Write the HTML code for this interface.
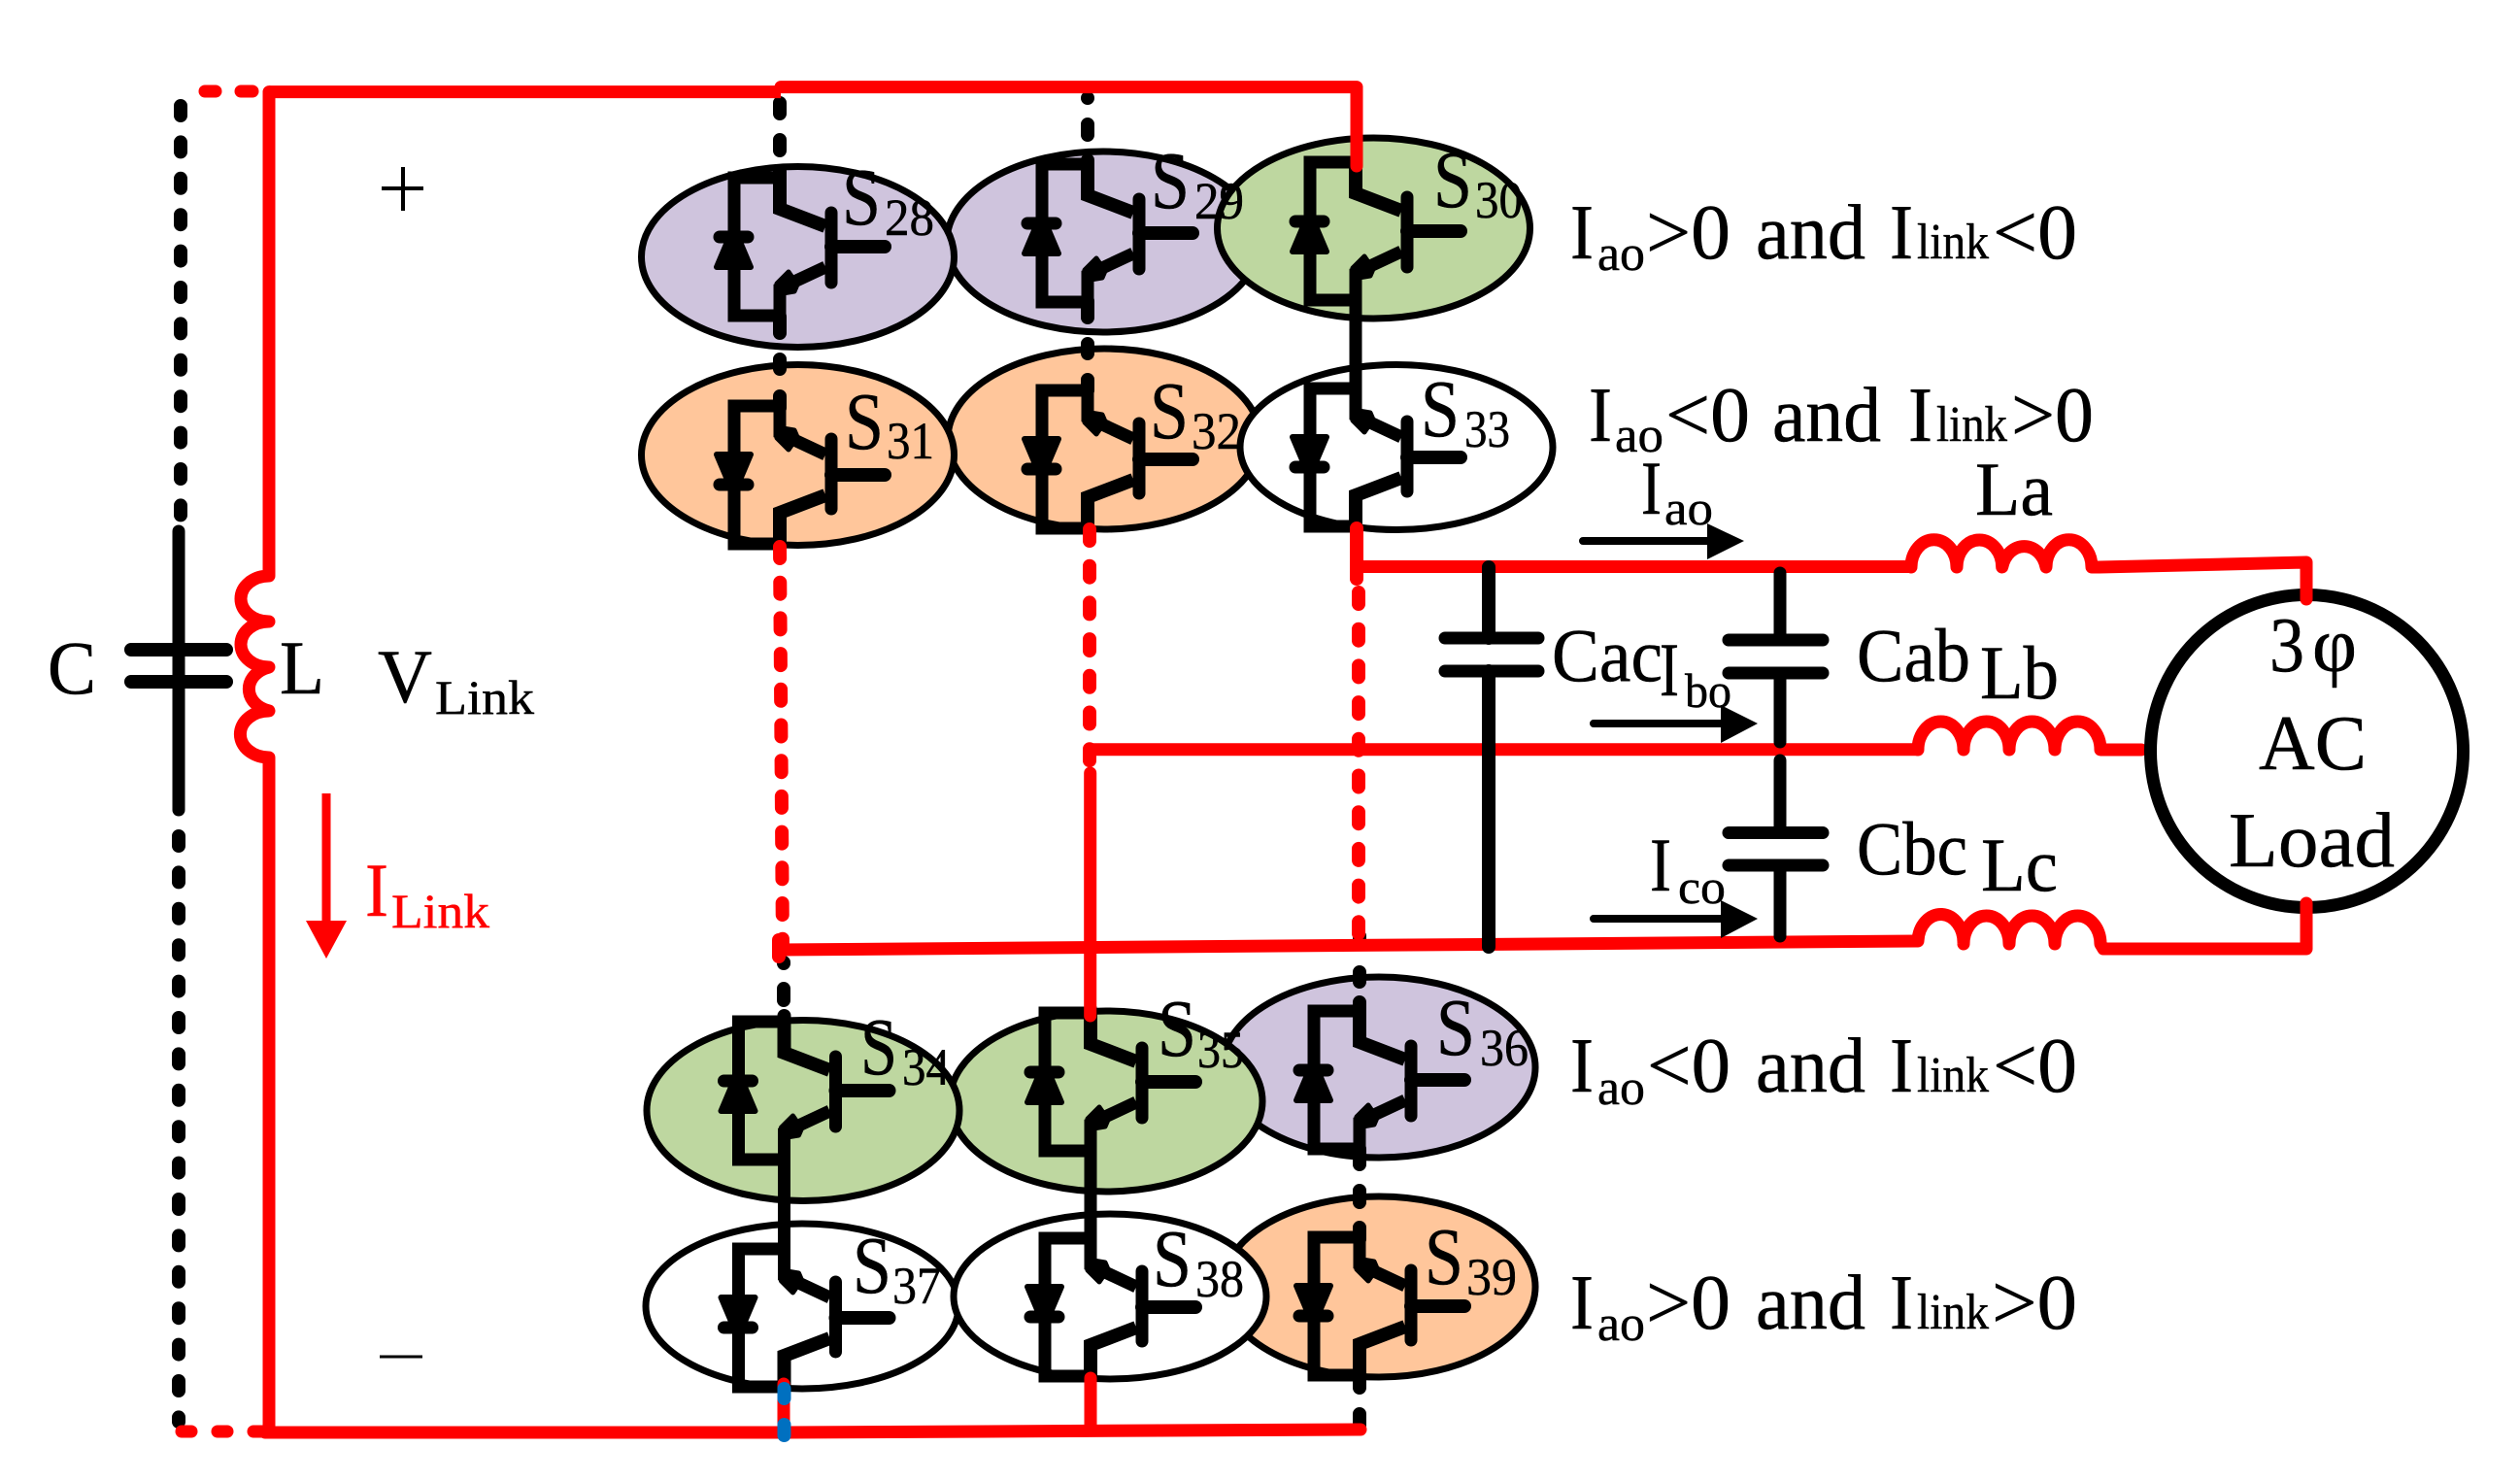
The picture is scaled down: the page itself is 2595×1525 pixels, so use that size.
<!DOCTYPE html>
<html><head><meta charset="utf-8"><style>
html,body{margin:0;padding:0;background:#fff}
svg{display:block}
text{font-family:"Liberation Serif",serif;fill:#000;stroke:#000;stroke-width:.5}
</style></head><body>
<svg width="2595" height="1525" viewBox="0 0 2595 1525" xmlns="http://www.w3.org/2000/svg" fill="none" stroke-linecap="round" stroke-linejoin="round">
<defs>
<g id="sw" stroke="#000" fill="none">
<path d="M0 2H-47V144H0" stroke-width="13" stroke-linejoin="miter" stroke-linecap="square"/>
<path d="M0 0V34L47 52" stroke-width="14" stroke-linejoin="miter" stroke-linecap="butt"/>
<path d="M47 94L0 116V145" stroke-width="13" stroke-linejoin="miter" stroke-linecap="butt"/>
<path d="M53 38V110" stroke-width="13"/>
<path d="M53 73H108" stroke-width="14"/>
<path d="M-62 63H-33" stroke-width="13"/>
<path d="M-54 68H-41L-30 94H-65Z" fill="#000" stroke-width="6"/>
<path d="M-3 111L9 99L18 112L15 119L-3 122Z" fill="#000" stroke-width="5"/>
</g>
</defs>

<!-- ellipses -->
<g stroke="#000" stroke-width="7">
<ellipse cx="1136" cy="249" rx="161" ry="93" fill="#CFC4DD"/>
<ellipse cx="821.5" cy="264.5" rx="161" ry="93" fill="#CFC4DD"/>
<ellipse cx="1414.5" cy="235" rx="161" ry="93" fill="#BED7A0"/>
<ellipse cx="1137" cy="452" rx="161" ry="93" fill="#FFC69B"/>
<ellipse cx="821.5" cy="468.5" rx="161" ry="93" fill="#FFC69B"/>
<ellipse cx="1438" cy="460.5" rx="161" ry="85" fill="#fff"/>
<ellipse cx="1420" cy="1099" rx="161" ry="93" fill="#CFC4DD"/>
<ellipse cx="1139" cy="1134" rx="161" ry="93" fill="#BED7A0"/>
<ellipse cx="827" cy="1143.5" rx="161" ry="93" fill="#BED7A0"/>
<ellipse cx="1420" cy="1325" rx="161" ry="93" fill="#FFC69B"/>
<ellipse cx="826" cy="1345" rx="161" ry="85" fill="#fff"/>
<ellipse cx="1143" cy="1335" rx="161" ry="85" fill="#fff"/>
</g>

<!-- switches -->
<use href="#sw" transform="translate(803,181)"/>
<use href="#sw" transform="translate(1120,167)"/>
<use href="#sw" transform="translate(1396,165)"/>
<use href="#sw" transform="translate(803,562) scale(1,-1)"/>
<use href="#sw" transform="translate(1120,546) scale(1,-1)"/>
<use href="#sw" transform="translate(1396,544) scale(1,-1)"/>
<use href="#sw" transform="translate(807.5,1050)"/>
<use href="#sw" transform="translate(1123,1041)"/>
<use href="#sw" transform="translate(1400,1039)"/>
<use href="#sw" transform="translate(807.5,1430) scale(1,-1)"/>
<use href="#sw" transform="translate(1123,1419) scale(1,-1)"/>
<use href="#sw" transform="translate(1400,1418) scale(1,-1)"/>

<!-- black connectors -->
<g stroke="#000" stroke-width="14">
<path d="M803 106V117M803 144V155M803 181V176"/>
<path d="M803 326V343M803 370V380M803 408V420"/>
<path d="M1120 101V101M1120 128V139M1120 167V165"/>
<path d="M1120 310V327M1120 354V364M1120 391V402"/>
<path d="M1396 300V405" stroke-width="13"/>
<path d="M807 992V991M807 1018V1030M807.5 1046V1052"/>
<path d="M807.5 1190V1290" stroke-width="13"/>
<path d="M1123 1180V1280" stroke-width="13"/>
<path d="M1400 964V966M1400 1001V1011M1400 1032V1041M1400 1183V1199M1400 1226V1238M1400 1264V1276M1400 1415V1429M1400 1456V1468"/>
</g>

<!-- left capacitor -->
<g stroke="#000">
<path d="M186 109V531" stroke-width="14" stroke-dasharray="10 27.4"/>
<path d="M184 861V1464" stroke-width="14" stroke-dasharray="10 27.4"/>
<path d="M184 547V834" stroke-width="13"/>
<path d="M135 669H233M135 702H233" stroke-width="14"/>
</g>

<!-- red connectors -->
<g stroke="#f00" stroke-width="13">
<path d="M211 94H222M248 94H260" stroke-width="13"/>
<path d="M187 1474H197M224 1474H234M261 1474H273"/>
<path d="M277 94.6L804 94.6" stroke-linecap="butt"/>
<path d="M804 89.6H1397V171"/>
<path d="M277 94.6V593A29 23.5 0 0 0 277 640A29 23.5 0 0 0 277 687A29 23.5 0 0 0 277 732A29 23.5 0 0 0 277 780V1474"/>
<path d="M273 1475H808L1401 1472"/>
<path d="M803 563L806 980" stroke-width="14" stroke-dasharray="12 24.7"/>
<path d="M1122 545V785" stroke-width="14" stroke-dasharray="12 25.7"/>
<path d="M1122.7 796V1046" stroke-width="13"/>
<path d="M1397 544V596" stroke-width="14"/>
<path d="M1399 610V968" stroke-width="14" stroke-dasharray="12 25.7"/>
<path d="M802 978L1975 969" stroke-linecap="butt"/>
<path d="M802 968V985" stroke-width="14"/>
<path d="M1397 583.5H1968" stroke-linecap="butt"/>
<path d="M1122 771.7H1975" stroke-linecap="butt"/>
<!-- La -->
<path d="M1968 584A23.3 28 0 0 1 2015 584A23.3 28 0 0 1 2061.7 584A23.3 28 0 0 1 2107 584A23.3 28 0 0 1 2154 584L2162 584L2375 579V612"/>
<!-- Lb -->
<path d="M1975 772A23.5 29 0 0 1 2022 772A23.5 29 0 0 1 2069 772A23.5 29 0 0 1 2116 772A23.5 29 0 0 1 2163 772H2205"/>
<!-- Lc -->
<path d="M1975 969A23.5 29 0 0 1 2022 972A23.5 29 0 0 1 2069 972A23.5 29 0 0 1 2116 972A23.5 29 0 0 1 2163 972L2166 977H2375V935"/>
<!-- bottom collectors -->
<path d="M807 1425V1478"/>
<path d="M1123 1419V1473"/>
<path d="M336 817V955" stroke-width="9" stroke-linecap="butt"/>
</g>
<path d="M315 948H357L336 987Z" fill="#f00"/>

<!-- blue -->
<path d="M807.5 1430V1440M807.5 1467V1478" stroke="#0070C0" stroke-width="14"/>

<!-- load circle -->
<circle cx="2375.5" cy="773.5" r="161" fill="#fff" stroke="#000" stroke-width="13"/>
<path d="M2375 600V617M2375 930V945" stroke="#f00" stroke-width="13"/>

<!-- AC capacitors -->
<g stroke="#000" stroke-width="13">
<path d="M1533 584V657M1533 691V975" stroke-width="14"/>
<path d="M1488 657H1584M1488 691H1584"/>
<path d="M1833 590V659M1833 693V764M1833 783V857M1833 891V964" stroke-width="13"/>
<path d="M1780 659H1877M1780 693H1877M1780 857.5H1877M1780 891H1877"/>
<path d="M1630 557H1760M1641 745H1775M1641 946H1775" stroke-width="8"/>
</g>
<path d="M1796 557L1758 539V576Z M1810 745L1772 726V765Z M1810 946L1772 927V966Z" fill="#000"/>

<!-- switch labels -->
<g font-size="84">
<text x="867" y="231" textLength="40" lengthAdjust="spacingAndGlyphs">S</text>
<text x="1185" y="214" textLength="40" lengthAdjust="spacingAndGlyphs">S</text>
<text x="1476" y="213" textLength="40" lengthAdjust="spacingAndGlyphs">S</text>
<text x="870" y="462" textLength="40" lengthAdjust="spacingAndGlyphs">S</text>
<text x="1184" y="451" textLength="40" lengthAdjust="spacingAndGlyphs">S</text>
<text x="1463" y="449" textLength="40" lengthAdjust="spacingAndGlyphs">S</text>
<text x="886" y="1106" textLength="38" lengthAdjust="spacingAndGlyphs">S</text>
<text x="1192" y="1087" textLength="40" lengthAdjust="spacingAndGlyphs">S</text>
<text x="1479" y="1086" textLength="40" lengthAdjust="spacingAndGlyphs">S</text>
<text x="878" y="1331" textLength="40" lengthAdjust="spacingAndGlyphs">S</text>
<text x="1187" y="1324" textLength="40" lengthAdjust="spacingAndGlyphs">S</text>
<text x="1467" y="1322" textLength="40" lengthAdjust="spacingAndGlyphs">S</text>
</g>
<g font-size="54">
<text x="911" y="242" textLength="51" lengthAdjust="spacingAndGlyphs">28</text>
<text x="1230" y="225" textLength="51" lengthAdjust="spacingAndGlyphs">29</text>
<text x="1519" y="224" textLength="49" lengthAdjust="spacingAndGlyphs">30</text>
<text x="913" y="472" textLength="49" lengthAdjust="spacingAndGlyphs">31</text>
<text x="1227" y="462" textLength="51" lengthAdjust="spacingAndGlyphs">32</text>
<text x="1508" y="460" textLength="47" lengthAdjust="spacingAndGlyphs">33</text>
<text x="929" y="1117" textLength="49" lengthAdjust="spacingAndGlyphs">34</text>
<text x="1233" y="1099" textLength="48" lengthAdjust="spacingAndGlyphs">35</text>
<text x="1524" y="1097" textLength="50" lengthAdjust="spacingAndGlyphs">36</text>
<text x="919" y="1342" textLength="50" lengthAdjust="spacingAndGlyphs">37</text>
<text x="1231" y="1335" textLength="50" lengthAdjust="spacingAndGlyphs">38</text>
<text x="1510" y="1333" textLength="52" lengthAdjust="spacingAndGlyphs">39</text>
</g>

<!-- condition labels -->
<g font-size="80">
<text x="1617" y="266" textLength="24" lengthAdjust="spacingAndGlyphs">I</text>
<text x="1695" y="266" textLength="87" lengthAdjust="spacingAndGlyphs">&gt;0</text>
<text x="1808" y="266" textLength="113" lengthAdjust="spacingAndGlyphs">and</text>
<text x="1946" y="266" textLength="24" lengthAdjust="spacingAndGlyphs">I</text>
<text x="2052" y="266" textLength="87" lengthAdjust="spacingAndGlyphs">&lt;0</text>

<text x="1636" y="454" textLength="24" lengthAdjust="spacingAndGlyphs">I</text>
<text x="1715" y="454" textLength="87" lengthAdjust="spacingAndGlyphs">&lt;0</text>
<text x="1825" y="454" textLength="112" lengthAdjust="spacingAndGlyphs">and</text>
<text x="1965" y="454" textLength="25" lengthAdjust="spacingAndGlyphs">I</text>
<text x="2071" y="454" textLength="85" lengthAdjust="spacingAndGlyphs">&gt;0</text>

<text x="1617" y="1124" textLength="24" lengthAdjust="spacingAndGlyphs">I</text>
<text x="1696" y="1124" textLength="86" lengthAdjust="spacingAndGlyphs">&lt;0</text>
<text x="1808" y="1124" textLength="113" lengthAdjust="spacingAndGlyphs">and</text>
<text x="1946" y="1124" textLength="24" lengthAdjust="spacingAndGlyphs">I</text>
<text x="2052" y="1124" textLength="87" lengthAdjust="spacingAndGlyphs">&lt;0</text>

<text x="1617" y="1368" textLength="24" lengthAdjust="spacingAndGlyphs">I</text>
<text x="1695" y="1368" textLength="87" lengthAdjust="spacingAndGlyphs">&gt;0</text>
<text x="1808" y="1368" textLength="113" lengthAdjust="spacingAndGlyphs">and</text>
<text x="1946" y="1368" textLength="24" lengthAdjust="spacingAndGlyphs">I</text>
<text x="2051" y="1368" textLength="88" lengthAdjust="spacingAndGlyphs">&gt;0</text>
</g>
<g font-size="52">
<text x="1645" y="278" textLength="49" lengthAdjust="spacingAndGlyphs">ao</text>
<text x="1974" y="266" textLength="74" lengthAdjust="spacingAndGlyphs">link</text>
<text x="1663" y="465" textLength="50" lengthAdjust="spacingAndGlyphs">ao</text>
<text x="1994" y="454" textLength="73" lengthAdjust="spacingAndGlyphs">link</text>
<text x="1645" y="1137" textLength="49" lengthAdjust="spacingAndGlyphs">ao</text>
<text x="1974" y="1124" textLength="74" lengthAdjust="spacingAndGlyphs">link</text>
<text x="1645" y="1380" textLength="49" lengthAdjust="spacingAndGlyphs">ao</text>
<text x="1974" y="1368" textLength="74" lengthAdjust="spacingAndGlyphs">link</text>
</g>

<!-- component labels -->
<g font-size="78">
<text x="1598" y="701" textLength="114" lengthAdjust="spacingAndGlyphs">Cac</text>
<text x="1912" y="701" textLength="117" lengthAdjust="spacingAndGlyphs">Cab</text>
<text x="1912" y="900" textLength="114" lengthAdjust="spacingAndGlyphs">Cbc</text>
<text x="2034" y="530" textLength="80" lengthAdjust="spacingAndGlyphs">La</text>
<text x="2039" y="719" textLength="81" lengthAdjust="spacingAndGlyphs">Lb</text>
<text x="2040" y="917" textLength="79" lengthAdjust="spacingAndGlyphs">Lc</text>
<text x="1690" y="529" textLength="21" lengthAdjust="spacingAndGlyphs">I</text>
<text x="1709" y="716" textLength="20" lengthAdjust="spacingAndGlyphs">I</text>
<text x="1699" y="917" textLength="22" lengthAdjust="spacingAndGlyphs">I</text>
<text x="49" y="714" textLength="50" lengthAdjust="spacingAndGlyphs">C</text>
<text x="288" y="714" textLength="46" lengthAdjust="spacingAndGlyphs">L</text>
<text x="389" y="723" textLength="56" lengthAdjust="spacingAndGlyphs">V</text>
<text x="376" y="943" textLength="24" lengthAdjust="spacingAndGlyphs" style="fill:#f00;stroke:#f00">I</text>
</g>
<g font-size="50">
<text x="1714" y="540" textLength="50" lengthAdjust="spacingAndGlyphs">ao</text>
<text x="1735" y="728" textLength="48" lengthAdjust="spacingAndGlyphs">bo</text>
<text x="1728" y="930" textLength="49" lengthAdjust="spacingAndGlyphs">co</text>
<text x="448" y="735" textLength="102" lengthAdjust="spacingAndGlyphs">Link</text>
<text x="403" y="955" textLength="101" lengthAdjust="spacingAndGlyphs" style="fill:#f00;stroke:#f00">Link</text>
</g>
<path d="M393 194H436M415 172V217" stroke="#000" stroke-width="4" stroke-linecap="butt"/>
<path d="M391 1397H435" stroke="#000" stroke-width="3" stroke-linecap="butt"/>

<g font-size="80">
<text x="2337" y="691" textLength="36" lengthAdjust="spacingAndGlyphs">3</text>
<text x="2381" y="691" textLength="46" lengthAdjust="spacingAndGlyphs">φ</text>
<text x="2326" y="792" textLength="111" lengthAdjust="spacingAndGlyphs">AC</text>
<text x="2295" y="892" textLength="171" lengthAdjust="spacingAndGlyphs">Load</text>
</g>
</svg>
</body></html>
